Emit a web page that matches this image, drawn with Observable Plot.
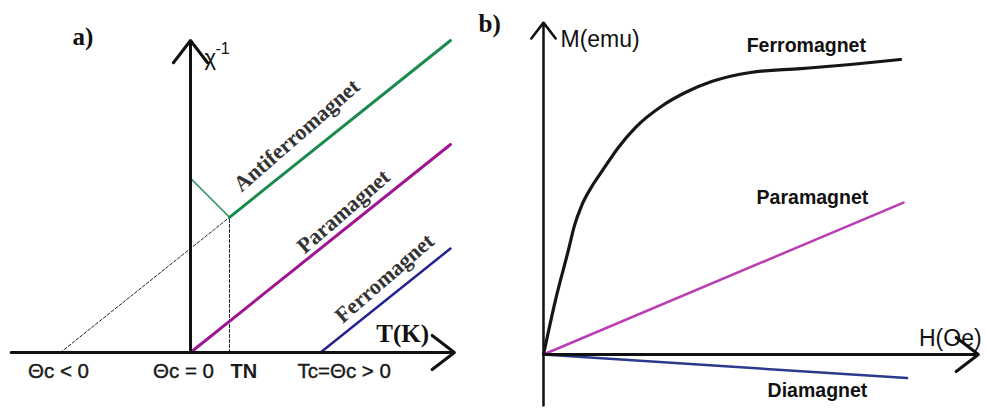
<!DOCTYPE html>
<html>
<head>
<meta charset="utf-8">
<script src="https://cdn.jsdelivr.net/npm/d3@7"></script>
<script src="https://cdn.jsdelivr.net/npm/@observablehq/plot@0.6"></script>
<style>
  body { margin: 0; background: #fff; }
  #wrap { position: relative; width: 985px; height: 409px; overflow: hidden; background: #fff; }
  #wrap > svg { position: absolute; top: 0; overflow: visible; }
</style>
</head>
<body>
<div id="wrap"></div>
<script>
// ---------- Panel a) : inverse susceptibility vs temperature ----------
const thetaNeg = -50;   // Θc < 0
const thetaZero = 0;    // Θc = 0
const tN = 15;          // Néel temperature
const tC = 50;          // Tc = Θc > 0
const paraT = [0, 100];
const paraChi = [0, 80];
const afmLowT = [0, 15];
const afmLowChi = [67, 52];
const afmHighT = [15, 100];
const afmHighChi = [52, 120];
const ferroT = [50, 100];
const ferroChi = [0, 40];
const extrapT = [-50, 15];
const extrapChi = [0, 52];
const tickLabelsA = ["Θc < 0", "Θc = 0", "TN", "Tc=Θc > 0"];
const labelsA = ["Antiferromagnet", "Paramagnet", "Ferromagnet"];
const labelT = [40.8, 58.8, 74.6];
const labelChi = [83.5, 54.2, 28.5];

// ---------- Panel b) : magnetisation vs field ----------
const ferroH = [0, 3.3, 6.9, 8.6, 10.6, 13.1, 16.4, 20.8, 25.6, 33.1, 39.4, 46.9, 57.5, 71.4, 85.3, 99.2];
const ferroM = [0, 18.3, 35.3, 43.7, 50.5, 56.3, 62.4, 70.2, 77.0, 84.4, 88.8, 92.6, 95.6, 96.9, 98.3, 100];
const paraH = [0, 100];
const paraM = [0, 51.5];
const diaH = [0, 101];
const diaM = [0, -8];
const labelsB = ["Ferromagnet", "Paramagnet", "Diamagnet"];
const labelH = [73, 74.7, 76.1];
const labelM = [104.7, 53.2, -12.2];

const toRows = (xs, ys) => xs.map((x, i) => ({x, y: ys[i]}));
const sans = "'Liberation Sans', Arial, sans-serif";
const serif = "'Liberation Serif', 'Times New Roman', serif";

const plotA = Plot.plot({
  width: 490, height: 409, margin: 0,
  x: {domain: [0, 100], range: [190, 450], axis: null},
  y: {domain: [0, 100], range: [352, 92], axis: null},
  style: {background: "transparent", overflow: "visible"},
  marks: [
    // dashed construction lines
    Plot.line(toRows(extrapT, extrapChi), {x: "x", y: "y", stroke: "#222", strokeWidth: 1, strokeDasharray: "3,2"}),
    Plot.line(toRows([tN, tN], [0, afmHighChi[0]]), {x: "x", y: "y", stroke: "#222", strokeWidth: 1, strokeDasharray: "3,2"}),
    // curves
    Plot.line(toRows(afmLowT, afmLowChi), {x: "x", y: "y", stroke: "#2a9055", strokeWidth: 1.6}),
    Plot.line(toRows(afmHighT, afmHighChi), {x: "x", y: "y", stroke: "#1b8a4e", strokeWidth: 3}),
    Plot.line(toRows(paraT, paraChi), {x: "x", y: "y", stroke: "#a01590", strokeWidth: 3}),
    Plot.line(toRows(ferroT, ferroChi), {x: "x", y: "y", stroke: "#25238e", strokeWidth: 2.5}),
    // axes
    Plot.arrow([0], {x1: -69, y1: 0, x2: 101.5, y2: 0, stroke: "#111", strokeWidth: 3, headLength: 14, headAngle: 75}),
    Plot.arrow([0], {x1: 0, y1: 0, x2: 0, y2: 120, stroke: "#111", strokeWidth: 3, headLength: 14, headAngle: 75}),
    // tick labels
    Plot.text([tickLabelsA[0]], {x: thetaNeg, y: 0, text: d => d, dx: -2, dy: 19, fontSize: 20.5, fontFamily: sans, fill: "#1a1a1a", stroke: "#1a1a1a", strokeWidth: 0.4}),
    Plot.text([tickLabelsA[1]], {x: thetaZero, y: 0, text: d => d, dx: -7, dy: 19, fontSize: 20.5, fontFamily: sans, fill: "#1a1a1a", stroke: "#1a1a1a", strokeWidth: 0.4}),
    Plot.text([tickLabelsA[2]], {x: tN, y: 0, text: d => d, dx: 1, dy: 19, textAnchor: "start", fontSize: 20, fontWeight: "bold", fontFamily: sans, fill: "#1a1a1a"}),
    Plot.text([tickLabelsA[3]], {x: tC, y: 0, text: d => d, dx: -23, dy: 19, textAnchor: "start", fontSize: 20.5, fontFamily: sans, fill: "#1a1a1a", stroke: "#1a1a1a", strokeWidth: 0.4}),
    // axis titles
    Plot.text(["T(K)"], {x: 101, y: 0, text: d => d, dx: -24, dy: -19, fontSize: 25, fontWeight: "bold", fontFamily: serif, fill: "#111", textAnchor: "end"}),
    Plot.text(["χ"], {x: 0, y: 114, text: d => d, dx: 14, dy: 2, textAnchor: "start", fontSize: 22, fontFamily: sans, fill: "#111"}),
    Plot.text(["-1"], {x: 0, y: 114, text: d => d, dx: 25, dy: -7, textAnchor: "start", fontSize: 16, fontFamily: sans, fill: "#111"}),
    // curve labels
    Plot.text(labelsA.map((t, i) => ({t, x: labelT[i], y: labelChi[i]})), {x: "x", y: "y", text: "t", rotate: -41, fontSize: 22, fontWeight: "bold", fontFamily: serif, fill: "#333"}),
    // panel label
    Plot.text(["a)"], {frameAnchor: "top-left", text: d => d, dx: 72, dy: 36, lineAnchor: "middle", textAnchor: "start", fontSize: 25, fontWeight: "bold", fontFamily: serif, fill: "#111"})
  ]
});
plotA.style.left = "0px";

const plotB = Plot.plot({
  width: 515, height: 409, margin: 0,
  x: {domain: [0, 100], range: [73, 433], axis: null},
  y: {domain: [0, 100], range: [354, 59], axis: null},
  style: {background: "transparent", overflow: "visible"},
  marks: [
    Plot.line(toRows(paraH, paraM), {x: "x", y: "y", stroke: "#bb3db3", strokeWidth: 2.5}),
    Plot.line(toRows(diaH, diaM), {x: "x", y: "y", stroke: "#2b3a8c", strokeWidth: 2.5}),
    // axes
    Plot.arrow([0], {x1: 0, y1: -17.3, x2: 0, y2: 112.5, stroke: "#111", strokeWidth: 2.5, headLength: 12, headAngle: 75}),
    Plot.arrow([0], {x1: 0, y1: 0, x2: 120.8, y2: 0, stroke: "#111", strokeWidth: 3, headLength: 14, headAngle: 75}),
    Plot.line(toRows(ferroH, ferroM), {x: "x", y: "y", stroke: "#161616", strokeWidth: 3.2, curve: "monotone-x"}),
    // axis titles
    Plot.text(["M(emu)"], {x: 0, y: 106.4, text: d => d, dx: 17, dy: -1, textAnchor: "start", fontSize: 23, fontFamily: sans, fill: "#111"}),
    Plot.text(["H(Oe)"], {x: 113, y: 5.4, text: d => d, fontSize: 23, fontFamily: sans, fill: "#111"}),
    // curve labels
    Plot.text(labelsB.map((t, i) => ({t, x: labelH[i], y: labelM[i]})), {x: "x", y: "y", text: "t", fontSize: 19.5, fontWeight: "bold", fontFamily: sans, fill: "#111"}),
    Plot.text(["b)"], {frameAnchor: "top-left", text: d => d, dx: 8, dy: 23, lineAnchor: "middle", textAnchor: "start", fontSize: 25, fontWeight: "bold", fontFamily: serif, fill: "#111"})
  ]
});
plotB.style.left = "470px";

document.getElementById("wrap").append(plotA, plotB);
</script>
</body>
</html>
